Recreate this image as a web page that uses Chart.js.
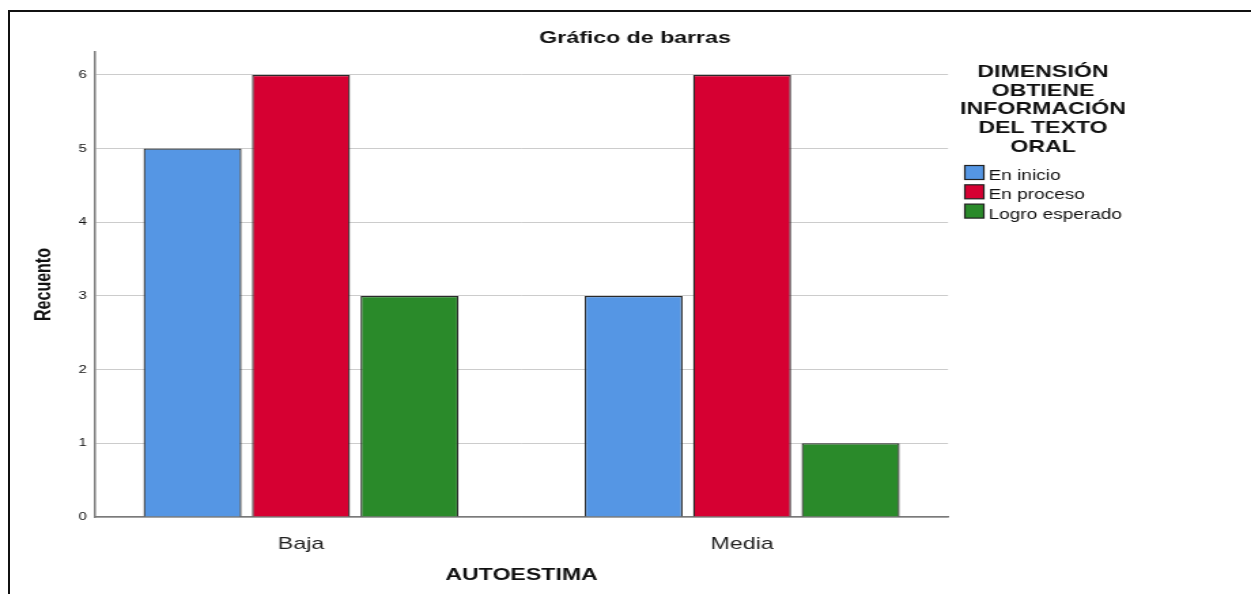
<!DOCTYPE html>
<html>
<head>
<meta charset="utf-8">
<script src="https://cdn.jsdelivr.net/npm/chart.js@4/dist/chart.umd.min.js"></script>
<style>
  html, body { margin: 0; padding: 0; background: #fff; overflow: hidden; }
  #marco { position: absolute; left: 8px; top: 10px; width: 1300px; height: 700px;
           border-top: 2px solid #111; border-left: 2px solid #111; }
  #caja { position: absolute; left: 0; top: 0; width: 920px; height: 594px;
          transform: scaleX(1.3598); transform-origin: 0 0; }
</style>
</head>
<body>
<div id="marco"></div>
<div id="caja"><canvas id="grafico" width="920" height="594"></canvas></div>
<script>
const categorias = ['Baja', 'Media'];
const series = ['En inicio', 'En proceso', 'Logro esperado'];
const enInicio = [5, 3];
const enProceso = [6, 6];
const logroEsperado = [3, 1];
const colores = ['#5596e4', '#d60032', '#2a8a2a'];
const ticksY = [0, 1, 2, 3, 4, 5, 6];

const tituloGrafico = 'Gráfico de barras';
const tituloLeyenda = ['DIMENSIÓN', 'OBTIENE', 'INFORMACIÓN', 'DEL TEXTO', 'ORAL'];
const tituloX = 'AUTOESTIMA';
const tituloY = 'Recuento';

const fuente = '"Liberation Sans", Arial, sans-serif';

// textos y leyenda dibujados a mano (la imagen original esta estirada en horizontal)
const textos = {
  id: 'textos',
  afterDraw(chart) {
    const ctx = chart.ctx;
    const area = chart.chartArea;
    ctx.save();
    ctx.fillStyle = '#111';
    ctx.textAlign = 'center';
    ctx.textBaseline = 'alphabetic';
    ctx.font = 'bold 17px ' + fuente;
    ctx.fillText(tituloGrafico, 467, 43);
    ctx.fillText(tituloX, (area.left + area.right) / 2, 580);

    ctx.save();
    ctx.translate(33, (area.top + area.bottom) / 2);
    ctx.rotate(-Math.PI / 2);
    ctx.textBaseline = 'middle';
    ctx.font = 'bold 16px ' + fuente;
    ctx.fillText(tituloY, 0, 0);
    ctx.restore();

    // leyenda
    ctx.font = 'bold 17px ' + fuente;
    tituloLeyenda.forEach((l, i) => ctx.fillText(l, 767, 77 + i * 18.7));
    ctx.textAlign = 'left';
    ctx.font = '14px ' + fuente;
    chart.data.datasets.forEach((ds, i) => {
      const y = 165.5 + i * 19.3;
      ctx.fillStyle = ds.backgroundColor;
      ctx.fillRect(709.5, y, 14, 14);
      ctx.strokeStyle = '#222';
      ctx.lineWidth = 1.2;
      ctx.strokeRect(709.5, y, 14, 14);
      ctx.fillStyle = '#111';
      ctx.fillText(ds.label, 727, y + 14.5);
    });
    ctx.restore();
  }
};

const valores = [enInicio, enProceso, logroEsperado];

new Chart(document.getElementById('grafico'), {
  type: 'bar',
  data: {
    labels: categorias.map((c, i) => i),
    datasets: series.map((s, i) => ({
      label: s,
      data: valores[i],
      backgroundColor: colores[i],
      borderColor: '#2a2a2a',
      borderWidth: 1.3,
      categoryPercentage: 0.738,
      barPercentage: 0.903
    }))
  },
  options: {
    responsive: false,
    animation: false,
    devicePixelRatio: 1,
    layout: { padding: { top: 52, right: 222.8, left: 0, bottom: 0 } },
    plugins: {
      legend: { display: false },
      title: { display: false },
      tooltip: { enabled: false }
    },
    scales: {
      x: {
        type: 'linear',
        offset: false,
        min: -0.467,
        max: 1.467,
        afterBuildTicks: s => { s.ticks = categorias.map((c, i) => ({ value: i })); },
        afterFit: s => { s.height = 77; },
        ticks: {
          callback: v => categorias[v],
          font: { family: fuente, size: 17 },
          color: '#222',
          padding: 9,
          maxRotation: 0
        },
        grid: { display: false },
        border: { display: true, color: '#7a7a7a', width: 1.5 }
      },
      y: {
        min: 0,
        max: 6.31,
        afterBuildTicks: s => { s.ticks = ticksY.map(v => ({ value: v })); },
        afterFit: s => { s.width = 69.9; },
        ticks: {
          font: { family: fuente, size: 11 },
          color: '#111',
          padding: 6
        },
        grid: { color: '#cccccc', lineWidth: 1, drawTicks: false },
        border: { display: true, color: '#7a7a7a', width: 1.5 }
      }
    }
  },
  plugins: [textos]
});
</script>
</body>
</html>
